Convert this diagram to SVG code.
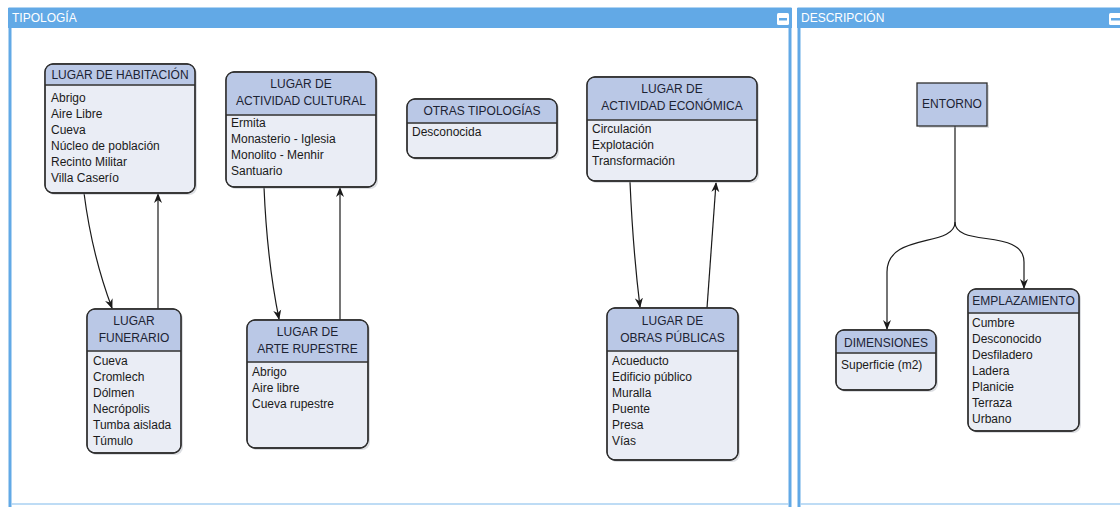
<svg xmlns="http://www.w3.org/2000/svg" width="1120" height="507" viewBox="0 0 1120 507">
  <defs>
    <style>
      .panel { fill: #ffffff; stroke: #62a9e6; stroke-width: 3; }
      .bar { fill: #62a9e6; }
      .foot { stroke: #a9d0f2; stroke-width: 1.5; }
      .ptitle { font-family: "Liberation Sans", Arial, sans-serif; font-size: 12px; fill: #ffffff; }
      .shadow { fill: #9aa0ad; opacity: 0.35; }
      .body { fill: #eaedf5; stroke: #2e2e2e; stroke-width: 1.3; }
      .head { fill: #bac8e6; }
      .sep { stroke: #2e2e2e; stroke-width: 1.3; }
      .title { font-family: "Liberation Sans", Arial, sans-serif; font-size: 12px; fill: #1c2333; text-anchor: middle; }
      .item { font-family: "Liberation Sans", Arial, sans-serif; font-size: 12px; fill: #1a1a1a; }
      .edge { fill: none; stroke: #1a1a1a; stroke-width: 1.2; marker-end: url(#arrow); }
      .btn { fill: #ffffff; }
      .btnbar { fill: #62a9e6; }
    </style>
    <marker id="arrow" viewBox="0 0 10 8" refX="9" refY="4" markerWidth="10" markerHeight="9" markerUnits="userSpaceOnUse" orient="auto">
      <path d="M0,0 L10,4 L0,8 L3,4 Z" fill="#1a1a1a"/>
    </marker>
  </defs>

  <rect width="1120" height="507" fill="#ffffff"/>

  <!-- Panels -->
  <g id="panel-tipologia">
    <rect class="panel" x="10" y="9" width="780" height="505"/>
    <line class="foot" x1="11" y1="504" x2="789" y2="504"/>
    <rect class="bar" x="8" y="8" width="784" height="20"/>
    <text class="ptitle" x="12" y="22">TIPOLOGÍA</text>
    <rect class="btn" x="777" y="13" width="12" height="12" rx="1.5"/>
    <rect class="btnbar" x="779" y="18" width="8" height="2.5"/>
  </g>
  <g id="panel-descripcion">
    <rect class="panel" x="799" y="9" width="330" height="505"/>
    <line class="foot" x1="800" y1="504" x2="1120" y2="504"/>
    <rect class="bar" x="797" y="8" width="330" height="20"/>
    <text class="ptitle" x="801" y="22">DESCRIPCIÓN</text>
    <rect class="btn" x="1109" y="13" width="12" height="12" rx="1.5"/>
    <rect class="btnbar" x="1111" y="18" width="9" height="2.5"/>
  </g>

  <!-- Connectors -->
  <g id="connectors">
    <path class="edge" d="M84,193 Q92,255 112,308"/>
    <path class="edge" d="M158,309 L158,194"/>
    <path class="edge" d="M264,187 Q267,260 279,319"/>
    <path class="edge" d="M340,320 L340,188"/>
    <path class="edge" d="M630,182 Q633,250 640,307"/>
    <path class="edge" d="M707,308 L716,183"/>
    <path class="edge" d="M955,126 V222 C955,248 887,232 887,272 V329"/>
    <path class="edge" d="M955,222 C955,248 1024,228 1024,262 V288"/>
  </g>

  <!-- Nodes -->
  <g id="lugar-habitacion">
    <rect class="shadow" x="47" y="66" width="150" height="129" rx="8"/>
    <rect class="body" x="45" y="64" width="150" height="129" rx="8"/>
    <path class="head" d="M45.7,84.5 V72 Q45.7,64.7 53,64.7 H187 Q194.3,64.7 194.3,72 V84.5 Z"/>
    <rect x="45" y="64" width="150" height="129" rx="8" fill="none" stroke="#2e2e2e" stroke-width="1.3"/>
    <line class="sep" x1="45" y1="85" x2="195" y2="85"/>
    <text class="title" x="120" y="79">LUGAR DE HABITACIÓN</text>
    <text class="item" x="51" y="102">Abrigo</text>
    <text class="item" x="51" y="118">Aire Libre</text>
    <text class="item" x="51" y="134">Cueva</text>
    <text class="item" x="51" y="150">Núcleo de población</text>
    <text class="item" x="51" y="166">Recinto Militar</text>
    <text class="item" x="51" y="182">Villa Caserío</text>
  </g>

  <g id="lugar-actividad-cultural">
    <rect class="shadow" x="228" y="74" width="150" height="115" rx="8"/>
    <rect class="body" x="226" y="72" width="150" height="115" rx="8"/>
    <path class="head" d="M226.7,114.5 V80 Q226.7,72.7 234,72.7 H368 Q375.3,72.7 375.3,80 V114.5 Z"/>
    <rect x="226" y="72" width="150" height="115" rx="8" fill="none" stroke="#2e2e2e" stroke-width="1.3"/>
    <line class="sep" x1="226" y1="115" x2="376" y2="115"/>
    <text class="title" x="301" y="88">LUGAR DE</text>
    <text class="title" x="301" y="105">ACTIVIDAD CULTURAL</text>
    <text class="item" x="231" y="127">Ermita</text>
    <text class="item" x="231" y="143">Monasterio - Iglesia</text>
    <text class="item" x="231" y="159">Monolito - Menhir</text>
    <text class="item" x="231" y="175">Santuario</text>
  </g>

  <g id="otras-tipologias">
    <rect class="shadow" x="409" y="101" width="150" height="59" rx="8"/>
    <rect class="body" x="407" y="99" width="150" height="59" rx="8"/>
    <path class="head" d="M407.7,122.5 V107 Q407.7,99.7 415,99.7 H549 Q556.3,99.7 556.3,107 V122.5 Z"/>
    <rect x="407" y="99" width="150" height="59" rx="8" fill="none" stroke="#2e2e2e" stroke-width="1.3"/>
    <line class="sep" x1="407" y1="123" x2="557" y2="123"/>
    <text class="title" x="482" y="115">OTRAS TIPOLOGÍAS</text>
    <text class="item" x="412" y="136">Desconocida</text>
  </g>

  <g id="lugar-actividad-economica">
    <rect class="shadow" x="589" y="79" width="170" height="104" rx="8"/>
    <rect class="body" x="587" y="77" width="170" height="104" rx="8"/>
    <path class="head" d="M587.7,119.5 V85 Q587.7,77.7 595,77.7 H749 Q756.3,77.7 756.3,85 V119.5 Z"/>
    <rect x="587" y="77" width="170" height="104" rx="8" fill="none" stroke="#2e2e2e" stroke-width="1.3"/>
    <line class="sep" x1="587" y1="120" x2="757" y2="120"/>
    <text class="title" x="672" y="93">LUGAR DE</text>
    <text class="title" x="672" y="110">ACTIVIDAD ECONÓMICA</text>
    <text class="item" x="592" y="133">Circulación</text>
    <text class="item" x="592" y="149">Explotación</text>
    <text class="item" x="592" y="165">Transformación</text>
  </g>

  <g id="lugar-funerario">
    <rect class="shadow" x="89" y="311" width="94" height="144" rx="8"/>
    <rect class="body" x="87" y="309" width="94" height="144" rx="8"/>
    <path class="head" d="M87.7,350.5 V317 Q87.7,309.7 95,309.7 H173 Q180.3,309.7 180.3,317 V350.5 Z"/>
    <rect x="87" y="309" width="94" height="144" rx="8" fill="none" stroke="#2e2e2e" stroke-width="1.3"/>
    <line class="sep" x1="87" y1="351" x2="181" y2="351"/>
    <text class="title" x="134" y="325">LUGAR</text>
    <text class="title" x="134" y="342">FUNERARIO</text>
    <text class="item" x="93" y="365">Cueva</text>
    <text class="item" x="93" y="381">Cromlech</text>
    <text class="item" x="93" y="397">Dólmen</text>
    <text class="item" x="93" y="413">Necrópolis</text>
    <text class="item" x="93" y="429">Tumba aislada</text>
    <text class="item" x="93" y="445">Túmulo</text>
  </g>

  <g id="lugar-arte-rupestre">
    <rect class="shadow" x="249" y="322" width="121" height="128" rx="8"/>
    <rect class="body" x="247" y="320" width="121" height="128" rx="8"/>
    <path class="head" d="M247.7,361.5 V328 Q247.7,320.7 255,320.7 H360 Q367.3,320.7 367.3,328 V361.5 Z"/>
    <rect x="247" y="320" width="121" height="128" rx="8" fill="none" stroke="#2e2e2e" stroke-width="1.3"/>
    <line class="sep" x1="247" y1="362" x2="368" y2="362"/>
    <text class="title" x="307.5" y="336">LUGAR DE</text>
    <text class="title" x="307.5" y="353">ARTE RUPESTRE</text>
    <text class="item" x="252" y="376">Abrigo</text>
    <text class="item" x="252" y="392">Aire libre</text>
    <text class="item" x="252" y="408">Cueva rupestre</text>
  </g>

  <g id="lugar-obras-publicas">
    <rect class="shadow" x="609" y="310" width="131" height="152" rx="8"/>
    <rect class="body" x="607" y="308" width="131" height="152" rx="8"/>
    <path class="head" d="M607.7,350.5 V316 Q607.7,308.7 615,308.7 H730 Q737.3,308.7 737.3,316 V350.5 Z"/>
    <rect x="607" y="308" width="131" height="152" rx="8" fill="none" stroke="#2e2e2e" stroke-width="1.3"/>
    <line class="sep" x1="607" y1="351" x2="738" y2="351"/>
    <text class="title" x="672.5" y="325">LUGAR DE</text>
    <text class="title" x="672.5" y="342">OBRAS PÚBLICAS</text>
    <text class="item" x="612" y="365">Acueducto</text>
    <text class="item" x="612" y="381">Edificio público</text>
    <text class="item" x="612" y="397">Muralla</text>
    <text class="item" x="612" y="413">Puente</text>
    <text class="item" x="612" y="429">Presa</text>
    <text class="item" x="612" y="445">Vías</text>
  </g>

  <g id="entorno">
    <rect class="shadow" x="919" y="85" width="70" height="43"/>
    <rect x="917" y="83" width="70" height="43" fill="#bac8e6" stroke="#2e2e2e" stroke-width="1.3"/>
    <text class="title" x="952" y="108">ENTORNO</text>
  </g>

  <g id="dimensiones">
    <rect class="shadow" x="838" y="332" width="100" height="60" rx="8"/>
    <rect class="body" x="836" y="330" width="100" height="60" rx="8"/>
    <path class="head" d="M836.7,352.5 V338 Q836.7,330.7 844,330.7 H928 Q935.3,330.7 935.3,338 V352.5 Z"/>
    <rect x="836" y="330" width="100" height="60" rx="8" fill="none" stroke="#2e2e2e" stroke-width="1.3"/>
    <line class="sep" x1="836" y1="353" x2="936" y2="353"/>
    <text class="title" x="886" y="347">DIMENSIONES</text>
    <text class="item" x="841" y="369">Superficie (m2)</text>
  </g>

  <g id="emplazamiento">
    <rect class="shadow" x="970" y="291" width="111" height="142" rx="8"/>
    <rect class="body" x="968" y="289" width="111" height="142" rx="8"/>
    <path class="head" d="M968.7,312.5 V297 Q968.7,289.7 976,289.7 H1071 Q1078.3,289.7 1078.3,297 V312.5 Z"/>
    <rect x="968" y="289" width="111" height="142" rx="8" fill="none" stroke="#2e2e2e" stroke-width="1.3"/>
    <line class="sep" x1="968" y1="313" x2="1079" y2="313"/>
    <text class="title" x="1023.5" y="305">EMPLAZAMIENTO</text>
    <text class="item" x="972" y="327">Cumbre</text>
    <text class="item" x="972" y="343">Desconocido</text>
    <text class="item" x="972" y="359">Desfiladero</text>
    <text class="item" x="972" y="375">Ladera</text>
    <text class="item" x="972" y="391">Planicie</text>
    <text class="item" x="972" y="407">Terraza</text>
    <text class="item" x="972" y="423">Urbano</text>
  </g>
</svg>
